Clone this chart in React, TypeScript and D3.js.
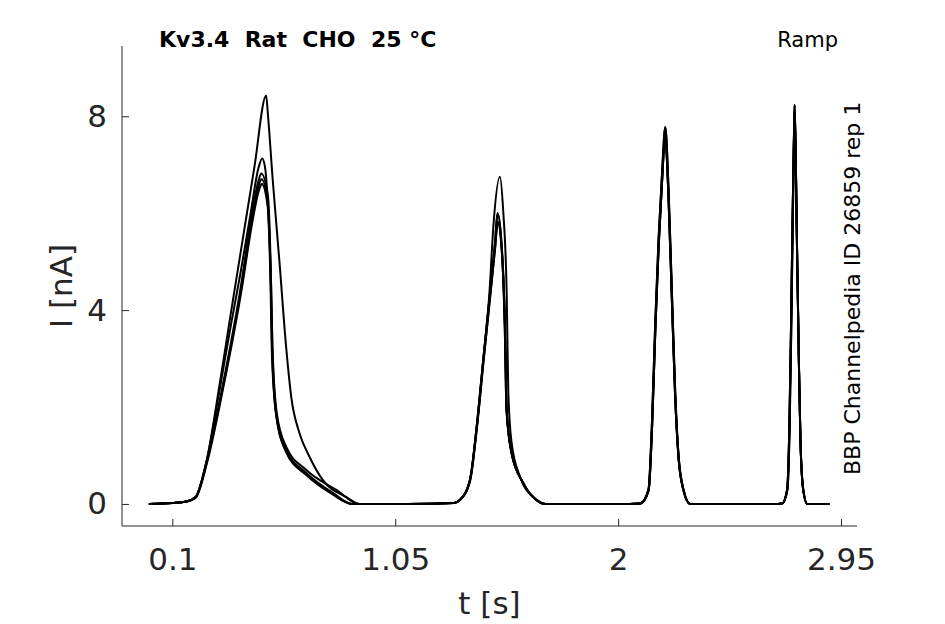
import { useRef, useEffect } from "react";
import * as d3 from "d3";

type Pt = [number, number]; // [t in s, I in nA]

// ramp 1 (slow ramp), one array per sweep shape
const ramp1High: Pt[] = [
  [0.0, 0.0], [0.1, 0.02], [0.16, 0.05], [0.2, 0.15], [0.245, 0.85], [0.301, 2.45],
  [0.343, 3.74], [0.4, 5.46], [0.45, 6.96], [0.5, 8.43], [0.507, 8.06], [0.528, 6.68],
  [0.557, 4.97], [0.585, 3.24], [0.607, 2.2], [0.642, 1.46], [0.685, 0.97], [0.742, 0.49],
  [0.842, 0.14], [0.898, 0.0],
];
const ramp1Mid: Pt[] = [
  [0.0, 0.0], [0.1, 0.02], [0.16, 0.05], [0.2, 0.15], [0.244, 0.85], [0.305, 2.45],
  [0.35, 3.7], [0.39, 4.75], [0.432, 5.95], [0.468, 6.95], [0.483, 7.13], [0.495, 6.95],
  [0.507, 6.2], [0.521, 4.5], [0.527, 3.24], [0.545, 1.88], [0.585, 1.18], [0.671, 0.7],
  [0.799, 0.29], [0.898, 0.0],
];
const ramp1LowA: Pt[] = [
  [0.0, 0.0], [0.1, 0.02], [0.16, 0.05], [0.2, 0.15], [0.245, 0.85], [0.315, 2.45],
  [0.393, 4.52], [0.436, 5.9], [0.469, 6.7], [0.479, 6.82], [0.507, 6.37], [0.521, 4.52],
  [0.526, 3.24], [0.543, 1.88], [0.585, 1.11], [0.671, 0.64], [0.784, 0.23], [0.869, 0.0],
];
const ramp1LowB: Pt[] = [
  [0.0, 0.0], [0.1, 0.02], [0.16, 0.05], [0.2, 0.14], [0.246, 0.85], [0.317, 2.45],
  [0.395, 4.48], [0.438, 5.82], [0.47, 6.6], [0.48, 6.7], [0.506, 6.25], [0.52, 4.45],
  [0.525, 3.2], [0.541, 1.9], [0.583, 1.1], [0.668, 0.62], [0.78, 0.22], [0.865, 0.0],
];
const ramp1LowC: Pt[] = [
  [0.0, 0.0], [0.1, 0.02], [0.16, 0.05], [0.2, 0.13], [0.247, 0.83], [0.318, 2.42],
  [0.396, 4.44], [0.439, 5.76], [0.471, 6.5], [0.481, 6.6], [0.506, 6.15], [0.519, 4.4],
  [0.524, 3.15], [0.542, 1.86], [0.584, 1.08], [0.67, 0.6], [0.782, 0.2], [0.866, 0.0],
];

// ramp 2
const ramp2High: Pt[] = [
  [1.1, 0.0], [1.3, 0.02], [1.325, 0.08], [1.368, 0.49], [1.397, 1.59], [1.425, 2.97],
  [1.452, 4.4], [1.468, 5.71], [1.496, 6.75], [1.51, 6.06], [1.525, 4.35], [1.532, 2.29],
  [1.546, 1.26], [1.582, 0.56], [1.638, 0.14], [1.681, 0.0],
];
const ramp2Mid: Pt[] = [
  [1.1, 0.0], [1.3, 0.02], [1.325, 0.08], [1.368, 0.49], [1.397, 1.59], [1.425, 2.97],
  [1.454, 4.35], [1.475, 5.38], [1.486, 6.0], [1.503, 5.38], [1.518, 3.65], [1.525, 1.94],
  [1.546, 1.05], [1.596, 0.43], [1.667, 0.04], [1.69, 0.0],
];
const ramp2Low: Pt[] = [
  [1.1, 0.0], [1.3, 0.02], [1.326, 0.08], [1.369, 0.48], [1.398, 1.57], [1.426, 2.93],
  [1.455, 4.3], [1.476, 5.3], [1.487, 5.82], [1.503, 5.3], [1.517, 3.6], [1.524, 1.96],
  [1.545, 1.07], [1.594, 0.44], [1.665, 0.04], [1.69, 0.0],
];

// ramp 3
const ramp3High: Pt[] = [
  [2.05, 0.0], [2.094, 0.01], [2.129, 0.29], [2.144, 1.67], [2.158, 3.73], [2.172, 5.44],
  [2.187, 6.82], [2.201, 7.78], [2.215, 6.47], [2.229, 4.41], [2.243, 2.35], [2.258, 0.97],
  [2.279, 0.29], [2.308, 0.0],
];
const ramp3Low: Pt[] = [
  [2.05, 0.0], [2.095, 0.01], [2.13, 0.28], [2.145, 1.62], [2.159, 3.65], [2.173, 5.35],
  [2.188, 6.72], [2.2, 7.6], [2.214, 6.4], [2.228, 4.36], [2.242, 2.33], [2.257, 0.97],
  [2.278, 0.29], [2.307, 0.0],
];

// ramp 4 (fast ramp)
const ramp4High: Pt[] = [
  [2.68, 0.0], [2.699, 0.01], [2.72, 0.29], [2.73, 1.67], [2.737, 3.73], [2.743, 5.79],
  [2.749, 7.51], [2.752, 8.23], [2.757, 7.16], [2.763, 5.1], [2.77, 3.04], [2.777, 1.32],
  [2.789, 0.29], [2.806, 0.0], [2.9, 0.0],
];
const ramp4Low: Pt[] = [
  [2.68, 0.0], [2.7, 0.01], [2.721, 0.28], [2.731, 1.6], [2.738, 3.65], [2.744, 5.7],
  [2.749, 7.4], [2.752, 8.1], [2.757, 7.05], [2.763, 5.05], [2.77, 3.0], [2.777, 1.3],
  [2.789, 0.28], [2.806, 0.0], [2.9, 0.0],
];

const sweeps: Pt[][] = [
  [...ramp1High, ...ramp2High, ...ramp3High, ...ramp4High],
  [...ramp1Mid, ...ramp2Mid, ...ramp3Low, ...ramp4High],
  [...ramp1LowA, ...ramp2Mid, ...ramp3High, ...ramp4Low],
  [...ramp1LowB, ...ramp2Low, ...ramp3Low, ...ramp4High],
  [...ramp1LowC, ...ramp2Low, ...ramp3Low, ...ramp4Low],
];

const xTicks = [0.1, 1.05, 2, 2.95];
const yTicks = [0, 4, 8];

const W = 945;
const H = 624;
const PLOT = { left: 122, right: 857, top: 46, bottom: 526 };
const AXIS_COLOR = "#262626";
const FONT = "DejaVu Sans, sans-serif";

export default function App() {
  const svgRef = useRef<SVGSVGElement>(null);

  useEffect(() => {
    if (!svgRef.current) return;
    const svg = d3.select(svgRef.current);
    svg.selectAll("*").remove();

    const x = d3.scaleLinear().domain([-0.1145, 3.018]).range([PLOT.left, PLOT.right]);
    const y = d3.scaleLinear().domain([-0.455, 9.45]).range([PLOT.bottom, PLOT.top]);

    // traces
    const line = d3.line<Pt>()
      .x((d) => x(d[0]))
      .y((d) => y(d[1]))
      .curve(d3.curveMonotoneX);

    svg.append("g")
      .selectAll("path")
      .data(sweeps)
      .join("path")
      .attr("d", (d) => line(d))
      .attr("fill", "none")
      .attr("stroke", "#000")
      .attr("stroke-width", 2)
      .attr("stroke-linejoin", "round");

    // axes, ticks inward like MATLAB
    const xAxisG = svg.append("g")
      .attr("transform", `translate(0,${PLOT.bottom})`)
      .call(
        d3.axisBottom(x)
          .tickValues(xTicks)
          .tickFormat((d) => String(d))
          .tickSizeInner(-7)
          .tickSizeOuter(0)
          .tickPadding(22)
      );

    const yAxisG = svg.append("g")
      .attr("transform", `translate(${PLOT.left},0)`)
      .call(
        d3.axisLeft(y)
          .tickValues(yTicks)
          .tickFormat((d) => String(d))
          .tickSizeInner(-7)
          .tickSizeOuter(0)
          .tickPadding(15)
      );

    for (const g of [xAxisG, yAxisG]) {
      g.select(".domain").attr("stroke", AXIS_COLOR);
      g.selectAll(".tick line").attr("stroke", AXIS_COLOR);
      g.selectAll("text")
        .attr("fill", AXIS_COLOR)
        .attr("font-family", FONT)
        .attr("font-size", 31);
    }
    // the axis lines stop where the plot box ends
    xAxisG.select(".domain").attr("d", `M${PLOT.left},0H${PLOT.right}`);
    yAxisG.select(".domain").attr("d", `M0,${PLOT.top}V${PLOT.bottom}`);

    // labels
    svg.append("text")
      .attr("x", (PLOT.left + PLOT.right) / 2)
      .attr("y", 614)
      .attr("text-anchor", "middle")
      .attr("font-family", FONT)
      .attr("font-size", 31)
      .attr("fill", AXIS_COLOR)
      .text("t [s]");

    svg.append("text")
      .attr("transform", `translate(72,${(PLOT.top + PLOT.bottom) / 2}) rotate(-90)`)
      .attr("text-anchor", "middle")
      .attr("font-family", FONT)
      .attr("font-size", 31)
      .attr("fill", AXIS_COLOR)
      .text("I [nA]");

    svg.append("text")
      .attr("x", 159)
      .attr("y", 47)
      .attr("font-family", FONT)
      .attr("font-weight", "bold")
      .attr("font-size", 22)
      .attr("fill", "#000")
      .attr("xml:space", "preserve")
      .style("white-space", "pre")
      .text("Kv3.4  Rat  CHO  25 °C");

    svg.append("text")
      .attr("x", 838)
      .attr("y", 47)
      .attr("text-anchor", "end")
      .attr("font-family", FONT)
      .attr("font-size", 21)
      .attr("fill", "#000")
      .text("Ramp");

    svg.append("text")
      .attr("transform", "translate(860,475) rotate(-90)")
      .attr("font-family", FONT)
      .attr("font-size", 22)
      .attr("fill", "#000")
      .text("BBP Channelpedia ID 26859 rep 1");
  }, []);

  return (
    <svg
      ref={svgRef}
      width={W}
      height={H}
      viewBox={`0 0 ${W} ${H}`}
      style={{ position: "absolute", left: 0, top: 0, background: "#fff" }}
    />
  );
}
